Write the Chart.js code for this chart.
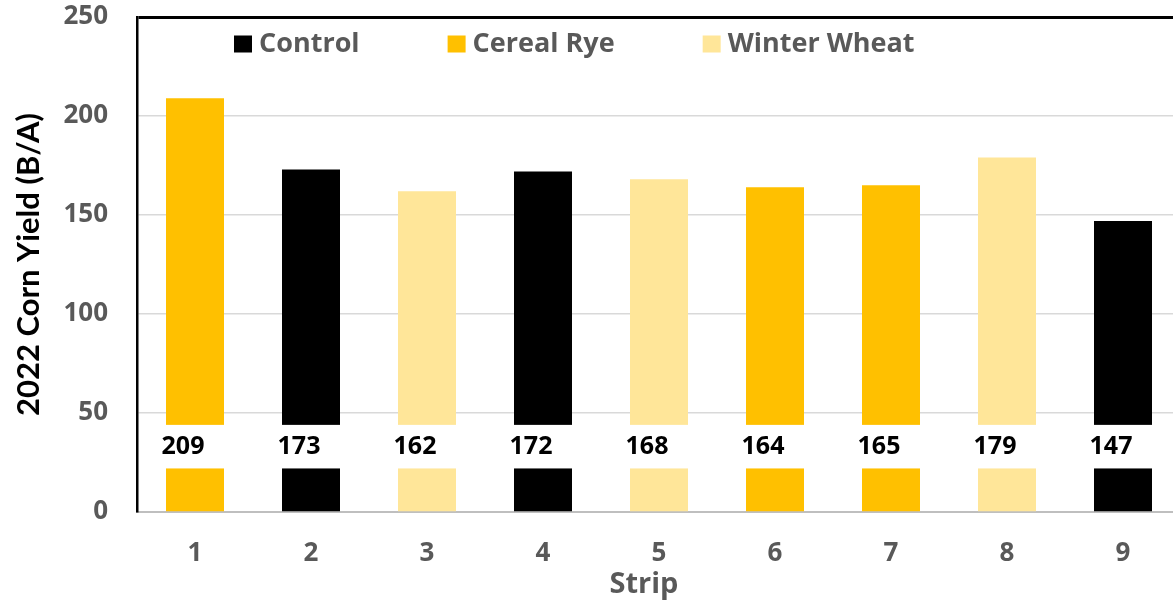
<!DOCTYPE html>
<html>
<head>
<meta charset="utf-8">
<script src="https://cdn.jsdelivr.net/npm/chart.js@4/dist/chart.umd.min.js"></script>
<style>
html,body{margin:0;padding:0;overflow:hidden;background:#fff;}
#wrap{width:1190px;height:602px;}
</style>
</head>
<body>
<div id="wrap"><canvas id="c" width="1190" height="602"></canvas></div>
<script>
const strips = ['1','2','3','4','5','6','7','8','9'];
const yields = [209, 173, 162, 172, 168, 164, 165, 179, 147];
const treatment = ['Cereal Rye','Control','Winter Wheat','Control','Winter Wheat','Cereal Rye','Cereal Rye','Winter Wheat','Control'];
const treatmentNames = ['Control','Cereal Rye','Winter Wheat'];
const treatmentColors = ['#000000','#FFC000','#FFE699'];
const yTicks = [0, 50, 100, 150, 200, 250];

const FONT = '"Open Sans", Lato, sans-serif';
const TFONT = 'Lato, "Open Sans", sans-serif';
const GREY = '#595959';

const barColors = treatment.map(t => treatmentColors[treatmentNames.indexOf(t)]);

const bandAndLabels = {
  id: 'bandAndLabels',
  afterDatasetsDraw(chart) {
    const {ctx, chartArea, scales} = chart;
    const y = scales.y;
    const top = y.getPixelForValue(44);
    const bot = y.getPixelForValue(22);
    ctx.save();
    ctx.fillStyle = '#ffffff';
    ctx.fillRect(chartArea.left + 2, top, chartArea.right - chartArea.left, bot - top);
    ctx.fillStyle = '#000000';
    ctx.font = 'bold 25px ' + FONT;
    ctx.textAlign = 'center';
    ctx.textBaseline = 'middle';
    const meta = chart.getDatasetMeta(0);
    meta.data.forEach((bar, i) => {
      ctx.fillText(String(yields[i]), bar.x - 12, (top + bot) / 2);
    });
    ctx.restore();
  }
};

const customLegend = {
  id: 'customLegend',
  afterDraw(chart) {
    const {ctx, chartArea} = chart;
    ctx.save();
    ctx.font = 'bold 27px ' + FONT;
    ctx.textBaseline = 'middle';
    ctx.textAlign = 'left';
    let x = chartArea.left + 97;
    const yc = 44;
    treatmentNames.forEach((name, i) => {
      ctx.fillStyle = treatmentColors[i];
      ctx.fillRect(x, yc - 8.5, 18, 17);
      ctx.fillStyle = GREY;
      ctx.fillText(name, x + 25, yc);
      x += 25 + ctx.measureText(name).width + 88;
    });
    ctx.restore();
  }
};

function zeroPad(s) { s.paddingTop = 0; s.paddingBottom = 0; s.paddingLeft = 0; s.paddingRight = 0; }

new Chart(document.getElementById('c'), {
  type: 'bar',
  data: {
    labels: strips,
    datasets: [{
      label: '2022 Corn Yield',
      data: yields,
      backgroundColor: barColors,
      borderWidth: 0,
      barPercentage: 0.5,
      categoryPercentage: 1.0
    }]
  },
  options: {
    responsive: false,
    animation: false,
    layout: {padding: {left: 0, top: 17, right: 9, bottom: 0}},
    plugins: {legend: {display: false}, tooltip: {enabled: false}},
    scales: {
      x: {
        grid: {display: false, drawTicks: false},
        border: {display: true, color: '#BFBFBF', width: 2},
        ticks: {color: GREY, font: {family: FONT, size: 26, weight: 'bold'}, padding: 26},
        title: {display: true, text: 'Strip    ', color: GREY, font: {family: FONT, size: 29, weight: 'bold'}, padding: {top: 0, bottom: 0}},
        afterFit(s) { s.height = 90; zeroPad(s); }
      },
      y: {
        min: 0, max: 250,
        afterBuildTicks(s) { s.ticks = yTicks.map(v => ({value: v})); },
        grid: {
          drawTicks: false,
          color: ctx => ctx.tick && ctx.tick.value === 250 ? '#000000' : (ctx.tick && ctx.tick.value === 0 ? 'rgba(0,0,0,0)' : '#D9D9D9'),
          lineWidth: ctx => ctx.tick && ctx.tick.value === 250 ? 3 : 1.5
        },
        border: {display: true, color: '#000000', width: 2.5},
        ticks: {color: GREY, font: {family: FONT, size: 26, weight: 'bold'}, padding: 29},
        title: {display: true, text: '2022 Corn Yield (B/A)', color: '#000000', font: {family: TFONT, size: 31, weight: 'bold'}, padding: {top: 10, bottom: 0}},
        afterFit(s) { s.width = 137; zeroPad(s); }
      }
    }
  },
  plugins: [bandAndLabels, customLegend]
});
</script>
</body>
</html>
